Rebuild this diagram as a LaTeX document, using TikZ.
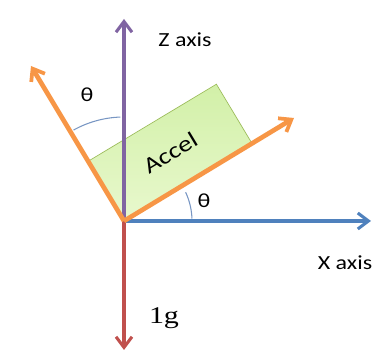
\documentclass[tikz,border=0pt]{standalone}
\usepackage{fontspec}
\setmainfont{Carlito}[FakeStretch=1.2]
\newfontfamily\onegfont{Liberation Serif}[FakeStretch=1.25]
\usetikzlibrary{arrows.meta}
\definecolor{zpurple}{RGB}{128,100,162}
\definecolor{xblue}{RGB}{79,129,189}
\definecolor{gred}{RGB}{192,80,77}
\definecolor{accorange}{RGB}{247,150,70}
\definecolor{arcblue}{RGB}{120,150,195}
\definecolor{boxgreen}{RGB}{155,187,89}
\definecolor{boxtop}{RGB}{210,240,168}
\definecolor{boxbot}{RGB}{232,248,205}

\begin{document}
\begin{tikzpicture}[x=0.75pt, y=0.75pt, font=\fontsize{15}{18}\selectfont, axis/.style={-{Straight Barb[length=8pt, width=12pt, line width=2.3pt]}, line width=2.5pt}, tilt/.style={-{Straight Barb[length=8pt, width=12pt, line width=2.8pt]}, line width=3.5pt, draw=accorange}, angarc/.style={draw=arcblue, line width=0.8pt}]
\useasboundingbox (0,0) rectangle (376,353);
\coordinate (o) at (124,132);
\node[draw=boxgreen, line width=0.5pt, top color=boxtop, bottom color=boxbot, rotate=31, minimum width=112pt, minimum height=52pt, anchor=south west, inner sep=0pt] (acc) at (o) {};
\node[rotate=31, font=\fontsize{17}{18}\selectfont] (acclab) at (acc.center) {Accel};
\coordinate (ztip) at (124,334);
\coordinate (xtip) at (371,132);
\coordinate (gtip) at (124,3);
\coordinate (rtip) at (294,235);
\coordinate (ltip) at (31,287);
\draw[axis, zpurple] (o) -- (ztip);
\draw[axis, xblue] (o) -- (xtip);
\draw[axis, gred] (o) -- (gtip);
\draw[tilt] (o) -- (rtip);
\draw[tilt] (o) -- (ltip);
\draw[angarc] ([shift={(92:104)}]o) arc[start angle=92, end angle=119, radius=104];
\draw[angarc] ([shift={(2:68)}]o) arc[start angle=2, end angle=25, radius=68];
\node (th1) at (87,258) {θ};
\node (th2) at (204,152) {θ};
\node (zlab) at (185,313) {Z axis};
\node (xlab) at (345,90) {X axis};
\node[font=\onegfont\fontsize{18}{20}\selectfont] (glab) at (164,35) {1g};
\end{tikzpicture}
\end{document}
